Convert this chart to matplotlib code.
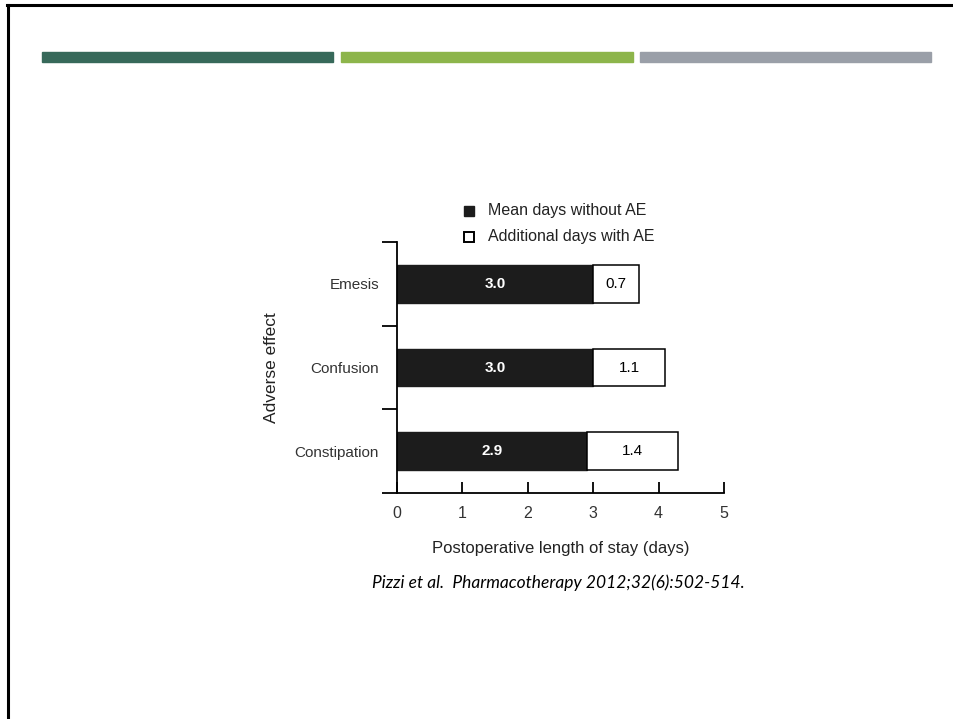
import matplotlib
matplotlib.use("Agg")
import matplotlib.pyplot as plt
from matplotlib.patches import Rectangle
from matplotlib.lines import Line2D

categories = ["Constipation", "Confusion", "Emesis"]
mean_days = [2.9, 3.0, 3.0]
additional_days = [1.4, 1.1, 0.7]
x_ticks = [0, 1, 2, 3, 4, 5]
legend_labels = ["Mean days without AE", "Additional days with AE"]
xlabel = "Postoperative length of stay (days)"
ylabel = "Adverse effect"
citation = "Pizzi et al.  Pharmacotherapy 2012;32(6):502-514."

narrow = ["Liberation Sans", "DejaVu Sans"]

fig = plt.figure(figsize=(9.54, 7.19), dpi=100)
W, H = 954, 719

# slide border
fig.add_artist(Line2D([7 / W, 1], [1 - 5 / H, 1 - 5 / H], color="black", lw=2.2))
fig.add_artist(Line2D([8 / W, 8 / W], [0, 1 - 5 / H], color="black", lw=2.2))

# header color bars
for x0, x1, c in [(42, 333, "#37695A"), (341, 633, "#8DB54B"), (640, 931, "#9A9FA8")]:
    fig.add_artist(Rectangle((x0 / W, 1 - 62 / H), (x1 - x0) / W, 10 / H,
                             color=c, transform=fig.transFigure))

ax = fig.add_axes([397 / W, 1 - 493 / H, (724 - 397) / W, (493 - 242) / H])
ypos = list(range(len(categories)))
h = 0.45
ax.barh(ypos, mean_days, height=h, color="#1c1c1c", edgecolor="#1c1c1c", lw=1)
ax.barh(ypos, additional_days, left=mean_days, height=h, color="white",
        edgecolor="black", lw=1.1)
for y, m, a in zip(ypos, mean_days, additional_days):
    ax.text(m / 2, y, f"{m:.1f}", color="white", ha="center", va="center",
            fontsize=11, fontweight="bold", family=narrow)
    ax.text(m + a / 2, y, f"{a:.1f}", color="black", ha="center", va="center",
            fontsize=11, family=narrow)

ax.set_xlim(0, 5)
ax.set_ylim(-0.5, len(categories) - 0.5)
for s in ["top", "right"]:
    ax.spines[s].set_visible(False)
ax.spines["left"].set_linewidth(1.3)
ax.spines["bottom"].set_linewidth(1.3)

ax.set_xticks(x_ticks)
ax.set_xticklabels([str(t) for t in x_ticks], family=narrow, fontsize=11.5, color="#333333")
ax.tick_params(axis="x", direction="in", length=8, width=1.3, pad=9)
ax.set_yticks(ypos)
ax.set_yticklabels(categories, family=narrow, fontsize=11, color="#333333")
ax.tick_params(axis="y", length=0, pad=13)
ax.set_yticks([-0.5, 0.5, 1.5, 2.5], minor=True)
ax.tick_params(axis="y", which="minor", direction="out", length=11, width=1.3)

ax.set_xlabel(xlabel, family=narrow, fontsize=12, color="#222222", labelpad=15)
ax.set_ylabel(ylabel, family=narrow, fontsize=12.5, color="#222222", labelpad=11)

# legend
fig.add_artist(Rectangle((464 / W, 1 - 216 / H), 10 / W, 10 / H, facecolor="#1c1c1c",
                         edgecolor="#1c1c1c", transform=fig.transFigure))
fig.add_artist(Rectangle((464 / W, 1 - 242 / H), 10 / W, 10 / H, facecolor="white",
                         edgecolor="black", lw=1.4, transform=fig.transFigure))
fig.text(488 / W, 1 - 211 / H, legend_labels[0], family=narrow, fontsize=11.5,
         va="center", ha="left", color="#222222")
fig.text(488 / W, 1 - 237 / H, legend_labels[1], family=narrow, fontsize=11.5,
         va="center", ha="left", color="#222222")

fig.text(558 / W, 1 - 583 / H, citation, family=["Lato", "DejaVu Sans"], style="italic",
         fontsize=12.5, ha="center", va="center", color="black")

fig.savefig("out.png", dpi=100)
